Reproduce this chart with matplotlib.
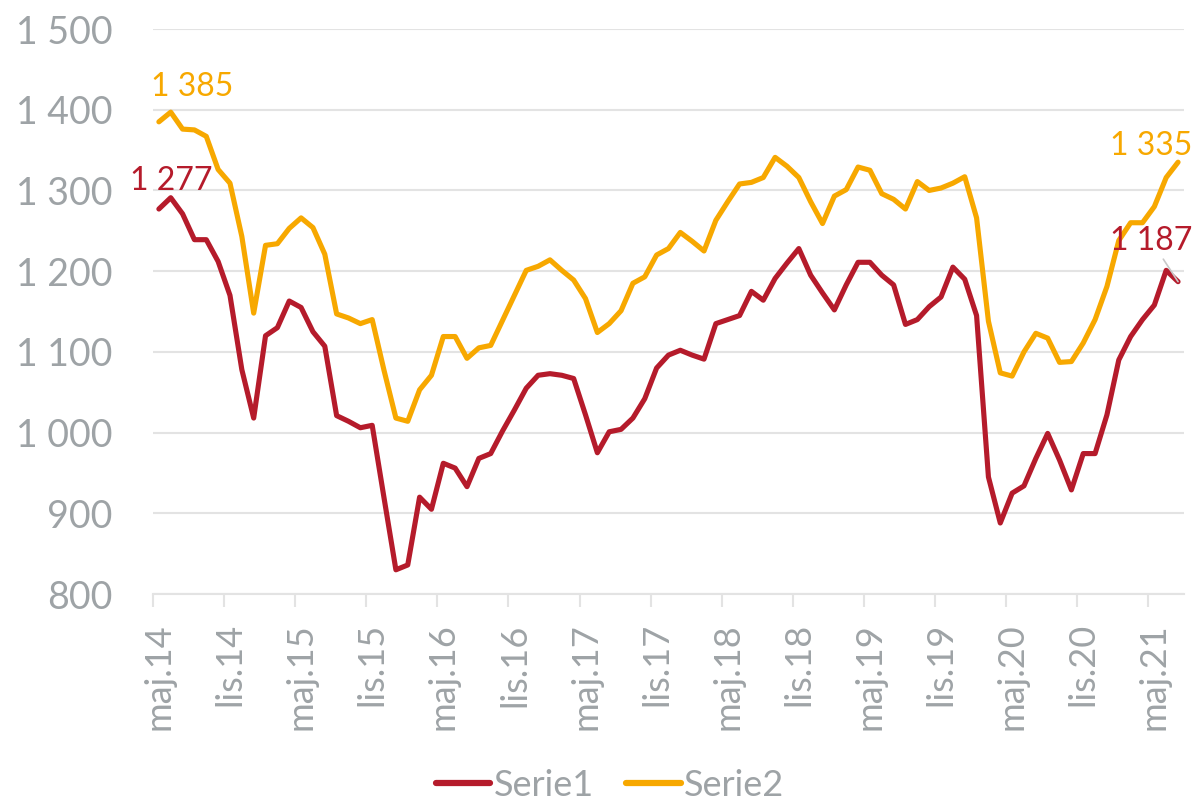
import matplotlib
matplotlib.use("Agg")
import matplotlib.pyplot as plt
from matplotlib.ticker import FuncFormatter

# miesięczne wartości od maja 2014 do lipca 2021
tick_labels = ["maj.14", "lis.14", "maj.15", "lis.15", "maj.16", "lis.16",
               "maj.17", "lis.17", "maj.18", "lis.18", "maj.19", "lis.19",
               "maj.20", "lis.20", "maj.21"]

serie1 = [1277, 1291, 1271, 1239, 1239, 1212, 1170, 1078, 1018, 1120,
          1130, 1163, 1155, 1125, 1107, 1021, 1014, 1006, 1009, 919,
          830, 836, 920, 905, 962, 956, 933, 968, 974, 1002,
          1028, 1055, 1071, 1073, 1071, 1067, 1022, 975, 1001, 1004,
          1018, 1042, 1080, 1096, 1102, 1096, 1091, 1135, 1140, 1145,
          1175, 1164, 1191, 1210, 1228, 1195, 1173, 1152, 1183, 1211,
          1211, 1195, 1183, 1134, 1140, 1156, 1168, 1205, 1190, 1145,
          945, 888, 925, 934, 968, 999, 966, 929, 974, 974,
          1022, 1090, 1119, 1140, 1158, 1201, 1187]

serie2 = [1385, 1397, 1376, 1375, 1367, 1326, 1309, 1243, 1148, 1232,
          1234, 1253, 1266, 1254, 1221, 1147, 1142, 1135, 1140, 1077,
          1018, 1014, 1053, 1071, 1119, 1119, 1092, 1105, 1108, 1139,
          1170, 1201, 1206, 1214, 1201, 1189, 1166, 1124, 1135, 1151,
          1185, 1193, 1220, 1228, 1248, 1237, 1225, 1263, 1286, 1308,
          1310, 1316, 1341, 1330, 1316, 1286, 1259, 1293, 1301, 1329,
          1325, 1296, 1289, 1277, 1311, 1300, 1303, 1309, 1317, 1266,
          1138, 1074, 1070, 1100, 1123, 1117, 1087, 1088, 1111, 1140,
          1181, 1238, 1260, 1260, 1280, 1316, 1335]

RED = "#B51B2B"
ORANGE = "#F7A800"
GREY = "#9EA3A6"
GRID = "#E3E3E3"

plt.rcParams["font.family"] = ["Lato", "DejaVu Sans"]


def fmt(v, _=None):
    return f"{v:,.0f}".replace(",", " ")


fig = plt.figure(figsize=(11.94, 8.06), dpi=100)
ax = fig.add_axes([0.1281, 0.263, 0.8635, 0.701])

x = list(range(len(serie1)))
ax.plot(x, serie1, color=RED, lw=3.7, solid_joinstyle="round",
        solid_capstyle="round", label="Serie1", zorder=3)
ax.plot(x, serie2, color=ORANGE, lw=3.7, solid_joinstyle="round",
        solid_capstyle="round", label="Serie2", zorder=3)

ax.set_xlim(-0.5, len(x) - 0.5)
ax.set_ylim(800, 1500)
ax.set_yticks(range(800, 1501, 100))
ax.yaxis.set_major_formatter(FuncFormatter(fmt))
ax.grid(axis="y", color=GRID, lw=1.5)
ax.set_axisbelow(True)
for side in ["left", "right", "top"]:
    ax.spines[side].set_visible(False)
ax.spines["bottom"].set_color(GRID)
ax.spines["bottom"].set_linewidth(1.5)
ax.tick_params(axis="y", length=0, pad=29, labelsize=27, labelcolor=GREY)

# etykiety na środku miesiąca, kreski na granicach okresów
pos = list(range(0, len(x), 6))
ax.set_xticks(pos, tick_labels, rotation=90)
ax.tick_params(axis="x", which="major", length=0, pad=21,
               labelsize=26, labelcolor=GREY)
ax.set_xticks([p - 0.5 for p in pos], minor=True)
ax.tick_params(axis="x", which="minor", length=9.5, width=1.5, color=GRID)

# etykiety danych na końcach serii
lab = dict(fontsize=23, ha="center", va="center", textcoords="offset points")
ax.annotate(fmt(serie2[0]), xy=(0, serie2[0]), xytext=(24, 25),
            color=ORANGE, **lab)
ax.annotate(fmt(serie1[0]), xy=(0, serie1[0]), xytext=(9, 20),
            color=RED, **lab)
ax.annotate(fmt(serie2[-1]), xy=(x[-1], serie2[-1]), xytext=(-19, 11.5),
            color=ORANGE, **lab)
ax.annotate(fmt(serie1[-1]), xy=(x[-1], serie1[-1]), xytext=(-19, 29),
            color=RED, arrowprops=dict(arrowstyle="-", color="#C8C8C8",
                                       lw=1.2, shrinkA=0, shrinkB=0),
            **lab)

leg = fig.legend(loc="center", bbox_to_anchor=(0.511, 0.026), ncol=2,
                 frameon=False, fontsize=26, handlelength=1.5,
                 handletextpad=0.1, columnspacing=0.9, labelcolor=GREY,
                 borderaxespad=0, borderpad=0)
for line in leg.get_lines():
    line.set_linewidth(4.5)

fig.savefig("out.png", dpi=100, facecolor="white")
